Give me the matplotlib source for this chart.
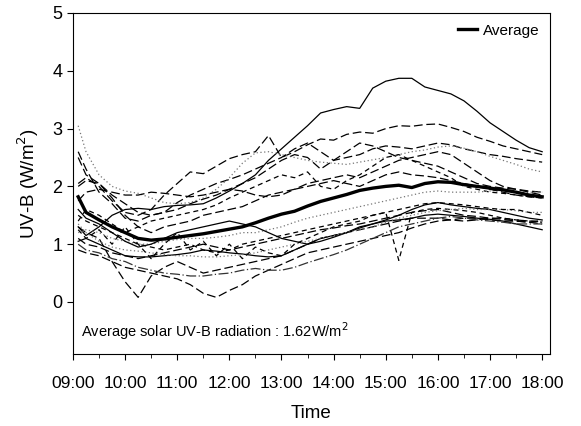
import matplotlib
matplotlib.use("Agg")
import matplotlib.pyplot as plt
from matplotlib.ticker import MultipleLocator
import numpy as np

plt.rcParams['font.family'] = ['Liberation Sans', 'DejaVu Sans']

# sample times (decimal hours)
hours = [9.1, 9.25, 9.5, 9.75, 10.0, 10.25, 10.5, 10.75, 11.0, 11.25, 11.5, 11.75,
         12.0, 12.25, 12.5, 12.75, 13.0, 13.25, 13.5, 13.75, 14.0, 14.25, 14.5, 14.75,
         15.0, 15.25, 15.5, 15.75, 16.0, 16.25, 16.5, 16.75, 17.0, 17.25, 17.5, 17.75, 18.0]
tick_labels = ['09:00', '10:00', '11:00', '12:00', '13:00', '14:00', '15:00', '16:00', '17:00', '18:00']

avg = [1.82, 1.55, 1.42, 1.30, 1.20, 1.10, 1.07, 1.09, 1.12, 1.15, 1.18, 1.22,
       1.26, 1.30, 1.37, 1.45, 1.52, 1.57, 1.66, 1.74, 1.80, 1.86, 1.93, 1.97,
       2.00, 2.02, 1.98, 2.05, 2.08, 2.07, 2.03, 2.00, 1.97, 1.94, 1.90, 1.85, 1.82]

# individual days
day_a = [1.30, 1.15, 1.30, 1.50, 1.60, 1.62, 1.60, 1.65, 1.67, 1.68, 1.70, 1.80,
         1.92, 2.05, 2.20, 2.45, 2.65, 2.85, 3.05, 3.27, 3.33, 3.38, 3.35, 3.70,
         3.82, 3.87, 3.87, 3.72, 3.66, 3.60, 3.48, 3.30, 3.10, 2.95, 2.80, 2.67, 2.60]
day_b = [2.05, 2.15, 2.00, 1.75, 1.55, 1.50, 1.60, 1.85, 2.05, 2.25, 2.22, 2.35,
         2.48, 2.55, 2.60, 2.88, 2.50, 2.60, 2.72, 2.82, 2.80, 2.90, 2.94, 2.92,
         3.00, 3.05, 3.04, 3.07, 3.08, 3.02, 2.95, 2.85, 2.78, 2.70, 2.65, 2.60, 2.55]
day_c = [2.60, 2.30, 1.90, 1.70, 1.45, 1.40, 1.50, 1.55, 1.72, 1.85, 1.95, 2.05,
         2.12, 2.20, 2.30, 2.40, 2.50, 2.65, 2.75, 2.60, 2.45, 2.50, 2.55, 2.65,
         2.70, 2.68, 2.65, 2.70, 2.75, 2.72, 2.65, 2.60, 2.55, 2.52, 2.48, 2.45, 2.42]
day_d = [3.05, 2.60, 2.20, 2.00, 1.92, 1.88, 1.80, 1.72, 1.70, 1.72, 1.80, 1.95,
         2.15, 2.40, 2.58, 2.60, 2.55, 2.50, 2.45, 2.42, 2.40, 2.38, 2.42, 2.46,
         2.50, 2.55, 2.60, 2.63, 2.68, 2.70, 2.66, 2.60, 2.52, 2.45, 2.38, 2.30, 2.25]
day_e = [2.00, 2.10, 2.05, 1.85, 1.70, 1.55, 1.50, 1.55, 1.60, 1.70, 1.78, 1.85,
         1.95, 2.05, 2.15, 2.30, 2.45, 2.55, 2.50, 2.30, 2.45, 2.60, 2.75, 2.70,
         2.60, 2.50, 2.45, 2.40, 2.35, 2.25, 2.15, 2.05, 2.00, 1.97, 1.95, 1.92, 1.90]
day_f = [1.40, 1.60, 1.50, 1.35, 1.20, 1.30, 1.40, 1.45, 1.50, 1.55, 1.60, 1.68,
         1.80, 1.90, 2.00, 2.10, 2.20, 2.15, 2.25, 2.00, 1.95, 2.10, 2.20, 2.35,
         2.50, 2.55, 2.45, 2.35, 2.25, 2.15, 2.00, 1.95, 1.90, 1.88, 1.85, 1.82, 1.80]
day_g = [1.20, 1.25, 1.20, 1.10, 1.05, 1.00, 1.00, 1.05, 1.08, 1.10, 1.10, 1.12,
         1.15, 1.20, 1.20, 1.25, 1.30, 1.38, 1.45, 1.50, 1.55, 1.60, 1.65, 1.70,
         1.75, 1.80, 1.85, 1.90, 1.92, 1.90, 1.90, 1.90, 1.92, 1.93, 1.90, 1.90, 1.90]
day_h = [1.10, 1.00, 0.95, 0.85, 0.80, 0.75, 0.80, 0.85, 0.90, 0.95, 1.00, 0.95,
         0.90, 0.95, 1.00, 1.05, 1.10, 1.15, 1.20, 1.25, 1.28, 1.32, 1.35, 1.40,
         1.45, 1.50, 1.55, 1.58, 1.60, 1.55, 1.50, 1.48, 1.45, 1.45, 1.42, 1.40, 1.40]
day_i = [1.05, 1.10, 1.00, 0.90, 0.80, 0.78, 0.78, 0.80, 0.82, 0.85, 0.90, 0.88,
         0.85, 0.83, 0.80, 0.78, 0.80, 0.90, 1.00, 1.10, 1.15, 1.20, 1.30, 1.35,
         1.40, 1.42, 1.45, 1.50, 1.52, 1.50, 1.48, 1.45, 1.43, 1.40, 1.35, 1.30, 1.25]
day_j = [1.30, 1.20, 1.10, 0.70, 0.35, 0.08, 0.45, 0.60, 0.70, 0.60, 0.50, 0.55,
         0.60, 0.65, 0.70, 0.75, 0.80, 0.90, 1.00, 1.10, 1.15, 1.20, 1.25, 1.30,
         1.35, 1.40, 1.45, 1.45, 1.45, 1.42, 1.40, 1.42, 1.45, 1.43, 1.40, 1.38, 1.35]
day_k = [0.90, 0.85, 0.80, 0.70, 0.60, 0.55, 0.50, 0.45, 0.40, 0.30, 0.15, 0.08,
         0.20, 0.30, 0.45, 0.55, 0.65, 0.75, 0.85, 0.90, 0.95, 1.00, 1.05, 1.10,
         1.15, 1.20, 1.28, 1.35, 1.40, 1.42, 1.45, 1.45, 1.42, 1.40, 1.40, 1.38, 1.40]
day_l = [1.00, 0.90, 0.85, 0.75, 0.70, 0.60, 0.55, 0.50, 0.48, 0.45, 0.45, 0.48,
         0.50, 0.55, 0.58, 0.55, 0.55, 0.60, 0.68, 0.75, 0.82, 0.90, 1.00, 1.10,
         1.20, 1.30, 1.35, 1.40, 1.45, 1.48, 1.45, 1.42, 1.40, 1.38, 1.35, 1.35, 1.35]
day_m = [1.50, 1.40, 1.30, 1.20, 1.10, 1.00, 0.95, 0.90, 0.95, 1.00, 0.90, 0.85,
         0.90, 1.00, 1.05, 1.10, 1.15, 1.20, 1.25, 1.30, 1.35, 1.40, 1.45, 1.50,
         1.55, 0.72, 1.55, 1.60, 1.62, 1.60, 1.58, 1.55, 1.50, 1.45, 1.42, 1.40, 1.38]
day_n = [1.60, 1.45, 1.35, 1.20, 1.05, 0.95, 1.00, 1.10, 1.20, 1.25, 1.30, 1.35,
         1.40, 1.35, 1.30, 1.20, 1.10, 1.05, 1.00, 1.05, 1.12, 1.20, 1.28, 1.35,
         1.42, 1.50, 1.60, 1.68, 1.72, 1.68, 1.65, 1.62, 1.60, 1.55, 1.50, 1.45, 1.42]
day_o = [2.50, 2.20, 2.05, 1.80, 1.50, 1.30, 1.20, 1.30, 1.35, 1.40, 1.50, 1.55,
         1.60, 1.65, 1.75, 1.85, 1.90, 1.95, 2.05, 2.10, 2.15, 2.20, 2.15, 2.25,
         2.35, 2.45, 2.50, 2.55, 2.60, 2.55, 2.40, 2.25, 2.10, 2.00, 1.95, 1.90, 1.85]
day_p = [1.35, 1.20, 1.05, 0.95, 0.90, 0.88, 0.85, 0.82, 0.80, 0.80, 0.78, 0.78,
         0.80, 0.82, 0.85, 0.90, 0.95, 1.00, 1.05, 1.10, 1.15, 1.20, 1.25, 1.30,
         1.38, 1.45, 1.50, 1.55, 1.58, 1.60, 1.62, 1.60, 1.60, 1.60, 1.58, 1.55, 1.55]
day_q = [1.25, 1.10, 1.25, 1.00, 1.30, 1.00, 0.75, 1.00, 1.20, 0.90, 1.05, 0.80,
         1.00, 0.75, 0.95, 0.85, 0.80, 1.00, 1.10, 1.20, 1.30, 1.35, 1.40, 1.50,
         1.55, 1.60, 1.65, 1.70, 1.72, 1.70, 1.68, 1.65, 1.62, 1.60, 1.60, 1.55, 1.50]
day_r = [1.75, 1.90, 1.95, 1.90, 1.85, 1.85, 1.90, 1.88, 1.85, 1.82, 1.85, 1.90,
         1.95, 1.92, 1.85, 1.82, 1.85, 1.95, 2.00, 2.05, 2.10, 2.05, 2.00, 2.10,
         2.20, 2.25, 2.20, 2.18, 2.15, 2.10, 2.05, 2.00, 1.95, 1.90, 1.85, 1.82, 1.80]

solid = '-'
dash = (0, (7, 3))
dash2 = (0, (4, 3))
dot = (0, (1, 2))
dashdot = (0, (8, 2, 1, 2))

days = [
    (day_a, solid, 'black'), (day_b, dash, 'black'), (day_c, dash, 'black'),
    (day_d, dot, '#777777'), (day_e, dash, 'black'), (day_f, dash2, 'black'),
    (day_g, dot, '#777777'), (day_h, dash, 'black'), (day_i, solid, 'black'),
    (day_j, dash, 'black'), (day_k, dash, 'black'), (day_l, dashdot, '#333333'),
    (day_m, dash2, 'black'), (day_n, solid, 'black'), (day_o, dash, 'black'),
    (day_p, dot, '#777777'), (day_q, dash2, 'black'), (day_r, dash, 'black'),
]

fig = plt.figure(figsize=(5.81, 4.26), dpi=100)
ax = fig.add_axes([0.1256, 0.169, 0.821, 0.8005])

for vals, ls, c in days:
    ax.plot(hours, vals, linestyle=ls, color=c, linewidth=0.9)
ax.plot(hours, avg, color='black', linewidth=2.4, label='Average')

ax.set_xlim(9.0, 18.15)
ax.set_ylim(-0.9, 5.0)
ax.set_xticks(range(9, 19))
ax.set_xticklabels(tick_labels, fontsize=12.5)
ax.xaxis.set_minor_locator(MultipleLocator(0.5))
ax.set_yticks(range(0, 6))
ax.tick_params(axis='y', labelsize=13, direction='out', length=4)
ax.tick_params(axis='x', which='major', direction='out', length=4, pad=12)
ax.tick_params(axis='x', which='minor', direction='out', length=3)
ax.tick_params(right=False, top=False)

ax.set_xlabel('Time', fontsize=13.5, labelpad=10)
ax.set_ylabel('UV-B (W/m$^2$)', fontsize=13.5, labelpad=8)

ax.text(9.15, -0.5, 'Average solar UV-B radiation : 1.62W/m$^2$', fontsize=10.5,
        va='center', ha='left')

ax.legend(loc='upper right', frameon=False, fontsize=11, handlelength=1.2,
          handletextpad=0.4, borderaxespad=0.3)

fig.savefig('out.png', dpi=100)
